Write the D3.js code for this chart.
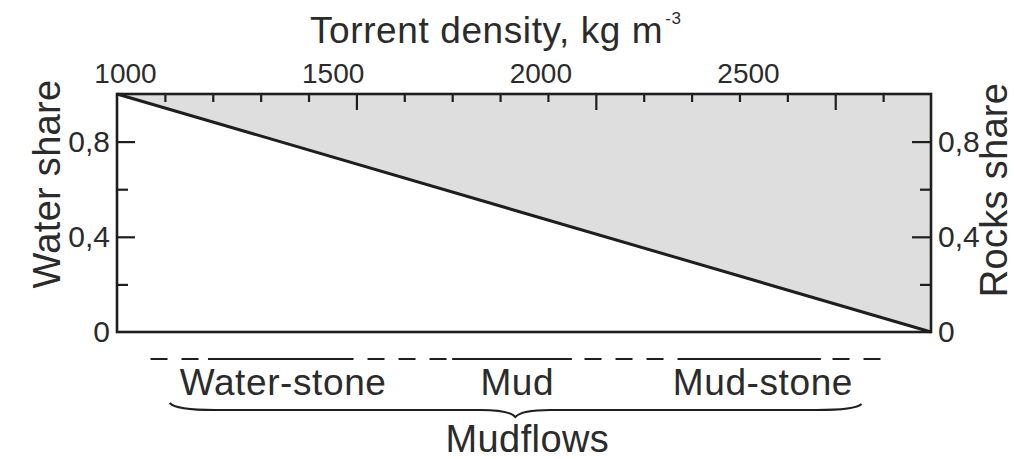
<!DOCTYPE html>
<html>
<head>
<meta charset="utf-8">
<script src="https://cdn.jsdelivr.net/npm/d3@7"></script>
<style>
  html, body { margin: 0; padding: 0; background: #fff; }
  svg { display: block; }
  text { font-family: "Liberation Sans", Arial, Helvetica, sans-serif; fill: #2b2b2b; }
</style>
</head>
<body>
<svg id="chart" width="1014" height="459"></svg>
<script>
// ---- data ----
const densityDomain = [1000, 2700];
const lineDensity = [1000, 2700];
const lineWaterShare = [1, 0];
const xMajorTicks = [1500, 2000, 2500];
const xMinorTicks = [1100, 1200, 1300, 1400, 1600, 1700, 1800, 1900, 2100, 2200, 2300, 2400, 2600];
const xTickLabels = [1000, 1500, 2000, 2500];
const yMajorTicks = [0.4, 0.8];
const yMinorTicks = [0.2, 0.6];
const yTickLabels = [0, 0.4, 0.8];
const classNames = ["Water-stone", "Mud", "Mud-stone"];
const classSolid = [[1190, 1480], [1700, 1950], [2200, 2470]];
const classCenters = [1347, 1836, 2349];
const classLineExtent = [1070, 2600];
const braceExtent = [1110, 2555];
const braceTip = 1832;
const groupName = "Mudflows";

// ---- layout ----
const svg = d3.select("#chart");
const mLeft = 117, mRight = 931, mTop = 94, mBottom = 332;
const x = d3.scaleLinear().domain(densityDomain).range([mLeft, mRight]);
const y = d3.scaleLinear().domain([0, 1]).range([mBottom, mTop]);
// the printed top labels sit on their own (hand placed) spacing in the original
const xLabel = d3.scaleLinear().domain([1000, 2500]).range([125, 748]);
const fmt = d => String(d).replace(".", ",");
const ink = "#1e1e1e";

const pts = lineDensity.map((d, i) => ({ d, w: lineWaterShare[i] }));

// grey area (rocks) above the line
svg.append("path")
  .datum(pts)
  .attr("d", d3.area().x(p => x(p.d)).y0(y(1)).y1(p => y(p.w)))
  .attr("fill", "#dedede");

// ticks (inward)
function tickMarks(axis, tx, ty) {
  const g = svg.append("g").attr("transform", `translate(${tx},${ty})`).call(axis);
  g.select(".domain").remove();
  g.selectAll("line").attr("stroke", ink).attr("stroke-width", 2.2);
  return g;
}
tickMarks(d3.axisBottom(x).tickValues(xMinorTicks).tickSize(8).tickFormat(""), 0, mTop);
tickMarks(d3.axisBottom(x).tickValues(xMajorTicks).tickSize(16).tickFormat(""), 0, mTop);
tickMarks(d3.axisRight(y).tickValues(yMinorTicks).tickSize(11).tickFormat(""), mLeft, 0);
tickMarks(d3.axisRight(y).tickValues(yMajorTicks).tickSize(18).tickFormat(""), mLeft, 0);
tickMarks(d3.axisLeft(y).tickValues(yMinorTicks).tickSize(11).tickFormat(""), mRight, 0);
tickMarks(d3.axisLeft(y).tickValues(yMajorTicks).tickSize(19).tickFormat(""), mRight, 0);

// frame
svg.append("rect")
  .attr("x", mLeft).attr("y", mTop)
  .attr("width", mRight - mLeft).attr("height", mBottom - mTop)
  .attr("fill", "none").attr("stroke", ink).attr("stroke-width", 2.6);

// diagonal line
svg.append("path")
  .datum(pts)
  .attr("d", d3.line().x(p => x(p.d)).y(p => y(p.w)))
  .attr("fill", "none").attr("stroke", ink).attr("stroke-width", 3);

// tick labels
function labelAxis(axis, tx, ty, size) {
  const g = svg.append("g").attr("transform", `translate(${tx},${ty})`).call(axis);
  g.select(".domain").remove();
  g.selectAll("line").remove();
  g.selectAll("text").attr("font-size", size).attr("fill", "#2b2b2b")
    .attr("font-family", '"Liberation Sans", Arial, Helvetica, sans-serif');
  return g;
}
labelAxis(d3.axisTop(xLabel).tickValues(xTickLabels).tickSize(0).tickPadding(3).tickFormat(d3.format("d")), 0, 86, 28);
labelAxis(d3.axisLeft(y).tickValues(yTickLabels).tickSize(0).tickPadding(7).tickFormat(fmt), mLeft, 0, 30);
labelAxis(d3.axisRight(y).tickValues(yTickLabels).tickSize(0).tickPadding(7).tickFormat(fmt), mRight, 0, 30);

// title
const title = svg.append("text")
  .attr("x", 310).attr("y", 43)
  .attr("font-size", 37).attr("letter-spacing", 0.6);
title.append("tspan").text("Torrent density, kg m");
title.append("tspan").attr("font-size", 17).attr("dy", -19).attr("dx", 2).text("-3");

// y titles
svg.append("text")
  .attr("transform", `translate(60,${(mTop + mBottom) / 2 - 29}) rotate(-90)`)
  .attr("text-anchor", "middle").attr("font-size", 38).attr("letter-spacing", 0.3)
  .text("Water share");
svg.append("text")
  .attr("transform", `translate(1007,${(mTop + mBottom) / 2 - 23}) rotate(-90)`)
  .attr("text-anchor", "middle").attr("font-size", 38).attr("letter-spacing", 0.3)
  .text("Rocks share");

// classification line
const lineY = 359;
svg.append("line")
  .attr("x1", x(classLineExtent[0])).attr("x2", x(classLineExtent[1]))
  .attr("y1", lineY).attr("y2", lineY)
  .attr("stroke", ink).attr("stroke-width", 2.2).attr("stroke-dasharray", "17,14");
svg.selectAll(".solid").data(classSolid).join("line")
  .attr("x1", d => x(d[0])).attr("x2", d => x(d[1]))
  .attr("y1", lineY).attr("y2", lineY)
  .attr("stroke", ink).attr("stroke-width", 2.2);

svg.selectAll(".cls").data(classNames).join("text")
  .attr("x", (d, i) => x(classCenters[i])).attr("y", 395)
  .attr("text-anchor", "middle").attr("font-size", 37).attr("letter-spacing", 0.6)
  .text(d => d);

// brace
const bx0 = x(braceExtent[0]), bx1 = x(braceExtent[1]), bt = x(braceTip), by = 410;
const bp = d3.path();
bp.moveTo(bx0, by - 7);
bp.quadraticCurveTo(bx0 + 6, by, bx0 + 45, by);
bp.lineTo(bt - 35, by);
bp.quadraticCurveTo(bt - 6, by, bt, by + 7);
bp.quadraticCurveTo(bt + 6, by, bt + 35, by);
bp.lineTo(bx1 - 45, by);
bp.quadraticCurveTo(bx1 - 6, by, bx1, by - 6);
svg.append("path").attr("d", bp.toString())
  .attr("fill", "none").attr("stroke", ink).attr("stroke-width", 2);

svg.append("text")
  .attr("x", x(braceTip) + 12).attr("y", 452)
  .attr("text-anchor", "middle").attr("font-size", 38).attr("letter-spacing", 0.4)
  .text(groupName);
</script>
</body>
</html>
